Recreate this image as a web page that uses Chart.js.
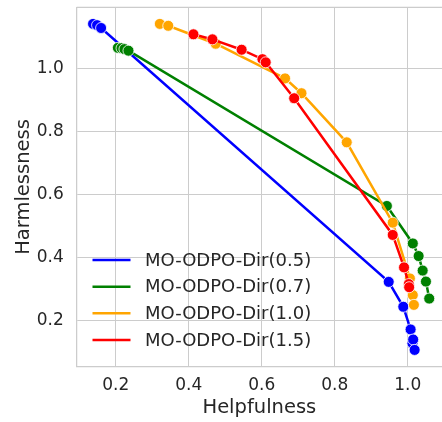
<!DOCTYPE html>
<html>
<head>
<meta charset="utf-8">
<script src="https://cdn.jsdelivr.net/npm/chart.js@4"></script>
<style>
  html, body { margin: 0; padding: 0; background: #ffffff; overflow: hidden; }
  #wrap { width: 442px; height: 422px; }
</style>
</head>
<body>
<div id="wrap"><canvas id="chart" width="442" height="422"></canvas></div>
<script>
// Series labels and colours
const seriesNames = ['MO-ODPO-Dir(0.5)', 'MO-ODPO-Dir(0.7)', 'MO-ODPO-Dir(1.0)', 'MO-ODPO-Dir(1.5)'];
const seriesColors = ['#0000ff', '#008000', '#ffa500', '#ff0000'];

// Helpfulness (x) / Harmlessness (y) per series
const helpDir05 = [0.138, 0.149, 0.160, 0.948, 0.988, 1.008, 1.013, 1.015, 1.019];
const harmDir05 = [1.141, 1.137, 1.128, 0.322, 0.243, 0.171, 0.127, 0.139, 0.106];

const helpDir07 = [0.206, 0.216, 0.224, 0.235, 0.943, 1.014, 1.030, 1.041, 1.050, 1.059];
const harmDir07 = [1.065, 1.064, 1.061, 1.056, 0.563, 0.444, 0.404, 0.358, 0.323, 0.269];

const helpDir10 = [0.321, 0.344, 0.474, 0.664, 0.709, 0.833, 0.959, 1.006, 1.014, 1.017];
const harmDir10 = [1.141, 1.135, 1.078, 0.968, 0.921, 0.765, 0.510, 0.333, 0.280, 0.249];

const helpDir15 = [0.413, 0.465, 0.545, 0.602, 0.611, 0.689, 0.959, 0.990, 1.003, 1.004];
const harmDir15 = [1.108, 1.092, 1.059, 1.029, 1.019, 0.905, 0.471, 0.368, 0.315, 0.305];

// Axis ticks
const xTicks = [0.2, 0.4, 0.6, 0.8, 1.0];
const yTicks = [0.2, 0.4, 0.6, 0.8, 1.0];

const FONT = "'DejaVu Sans', sans-serif";
const TEXT = '#262626';
const GRID = '#cccccc';

function toPoints(xs, ys) {
  return xs.map((x, i) => ({ x: x, y: ys[i] }));
}

const seriesData = [
  toPoints(helpDir05, harmDir05),
  toPoints(helpDir07, harmDir07),
  toPoints(helpDir10, harmDir10),
  toPoints(helpDir15, harmDir15)
];

const datasets = seriesData.map((pts, i) => ({
  label: seriesNames[i],
  data: pts,
  showLine: true,
  borderColor: seriesColors[i],
  backgroundColor: seriesColors[i],
  borderWidth: 2.5,
  pointRadius: 5.5,
  pointHoverRadius: 5.5,
  pointBackgroundColor: seriesColors[i],
  pointBorderColor: '#ffffff',
  pointBorderWidth: 0.8,
  order: seriesNames.length - i,
  clip: false
}));

// drop the half-label padding Chart.js keeps at the scale ends
function noEndPadding(scale) {
  scale.paddingTop = 0;
  scale.paddingBottom = 0;
  scale.paddingLeft = 0;
  scale.paddingRight = 0;
}

// top spine + legend drawn inside the plot, matplotlib style
const framePlugin = {
  id: 'frame',
  beforeDatasetsDraw(chart) {
    const { ctx, chartArea } = chart;
    ctx.save();
    ctx.strokeStyle = GRID;
    ctx.lineWidth = 1.25;
    ctx.beginPath();
    ctx.moveTo(chartArea.left, chartArea.top);
    ctx.lineTo(chartArea.right, chartArea.top);
    ctx.stroke();
    ctx.restore();
  },
  afterDatasetsDraw(chart) {
    const { ctx } = chart;
    const rows = [260, 286.7, 313.3, 340];
    ctx.save();
    ctx.font = '18px ' + FONT;
    ctx.textBaseline = 'middle';
    ctx.textAlign = 'left';
    seriesNames.forEach((name, i) => {
      ctx.strokeStyle = seriesColors[i];
      ctx.lineWidth = 2.5;
      ctx.beginPath();
      ctx.moveTo(92.5, rows[i]);
      ctx.lineTo(130.5, rows[i]);
      ctx.stroke();
      ctx.fillStyle = TEXT;
      ctx.fillText(name, 145, rows[i] + 1);
    });
    ctx.restore();
  }
};

new Chart(document.getElementById('chart').getContext('2d'), {
  type: 'scatter',
  data: { datasets: datasets },
  options: {
    responsive: false,
    animation: false,
    devicePixelRatio: 1,
    layout: { autoPadding: false, padding: { top: 7.3, right: 0, left: 0, bottom: 0 } },
    plugins: {
      legend: { display: false },
      tooltip: { enabled: false }
    },
    scales: {
      x: {
        type: 'linear',
        min: 0.0932,
        max: 1.094,
        afterBuildTicks: (scale) => { scale.ticks = xTicks.map(v => ({ value: v })); },
        afterFit: (scale) => { scale.height = 55.3; noEndPadding(scale); },
        border: { display: true, color: GRID, width: 1.25 },
        grid: { color: GRID, lineWidth: 1, drawTicks: false },
        ticks: {
          color: TEXT,
          padding: 9,
          font: { family: FONT, size: 17 },
          callback: (v) => Number(v).toFixed(1)
        },
        title: {
          display: true,
          text: 'Helpfulness',
          color: TEXT,
          font: { family: FONT, size: 19.5 },
          padding: { top: 0, bottom: 2 }
        }
      },
      y: {
        type: 'linear',
        min: 0.0527,
        max: 1.1937,
        afterBuildTicks: (scale) => { scale.ticks = yTicks.map(v => ({ value: v })); },
        afterFit: (scale) => { scale.width = 76.7; noEndPadding(scale); },
        border: { display: true, color: GRID, width: 1.25 },
        grid: { color: GRID, lineWidth: 1, drawTicks: false },
        ticks: {
          color: TEXT,
          padding: 13,
          font: { family: FONT, size: 17 },
          callback: (v) => Number(v).toFixed(1)
        },
        title: {
          display: true,
          text: 'Harmlessness',
          color: TEXT,
          font: { family: FONT, size: 19.5 },
          padding: { top: 12, bottom: 0 }
        }
      }
    }
  },
  plugins: [framePlugin]
});
</script>
</body>
</html>
